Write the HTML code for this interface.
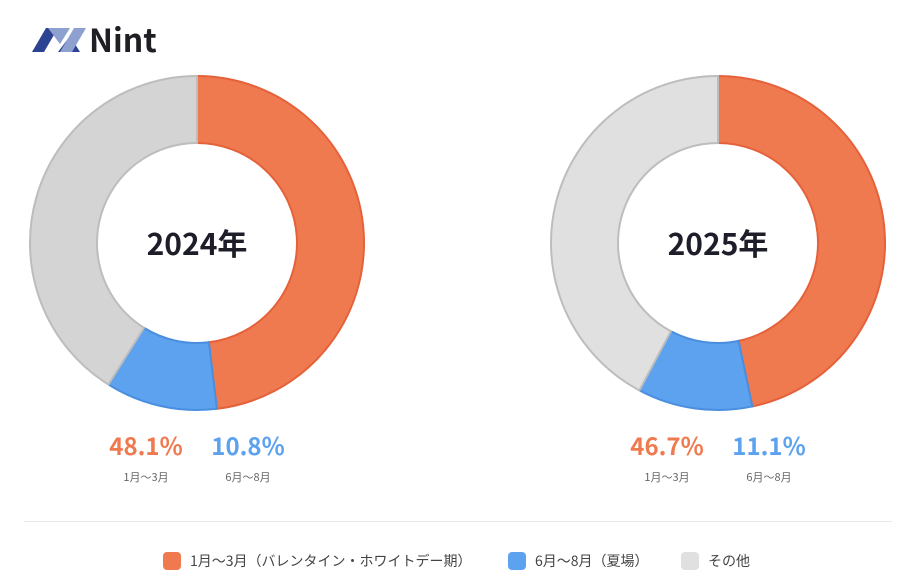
<!DOCTYPE html>
<html><head><meta charset="utf-8"><style>
body{margin:0;width:916px;height:584px;background:#fff;font-family:"Noto Sans CJK JP","Liberation Sans",sans-serif;overflow:hidden;position:relative}
.abs{position:absolute}
.pct{font-size:24px;font-weight:bold;text-align:center;width:100px;line-height:30px}
.sub{font-size:11px;color:#666;text-align:center;width:100px;line-height:16px}
.leg{font-size:14px;color:#444;display:flex;align-items:center;line-height:20px}
.sw{width:18px;height:18px;border-radius:4px;margin-right:9px}
</style></head><body>
<svg class="abs" style="left:30px;top:20px" width="145" height="36">
<polygon points="2,32 16,8 28,8 14,32" fill="#2c4391"/>
<polygon points="18,8 40,8 30,24" fill="#8ea0cf"/>
<polygon points="28,32 50,32 40,16" fill="#2c4391"/>
<polygon points="44,8 56,8 42,32 30,32" fill="#8ea0cf"/>
<text x="59" y="32" font-size="32" font-weight="bold" fill="#1e1e24" font-family="Noto Sans CJK JP, sans-serif">Nint</text>
</svg>
<svg id="chart" class="abs" style="left:0;top:0" width="916" height="520"></svg>
<div class="abs" style="left:24px;top:521px;width:868px;height:1px;background:#e8e8e8"></div>
<div class="abs leg" style="left:163px;top:551px"><div class="sw" style="background:#f07a50"></div>1月～3月（バレンタイン・ホワイトデー期）</div>
<div class="abs leg" style="left:508px;top:551px"><div class="sw" style="background:#5ca2ef"></div>6月～8月（夏場）</div>
<div class="abs leg" style="left:681px;top:551px"><div class="sw" style="background:#e0e0e0"></div>その他</div>
<script>
const years = ["2024年","2025年"];
const janMar = [48.1, 46.7];
const junAug = [10.8, 11.1];
const centers = [197, 718];
const fills = ["#f07a50","#5ca2ef"];
const strokes = ["#e5613a","#4a8ee0"];
const otherFill = ["#d4d4d4","#e0e0e0"];
const svg = document.getElementById('chart');
const NS = "http://www.w3.org/2000/svg";
const cy = 243, R = 167, r = 100;
function pt(cx, rad, pct){const a = pct/100*2*Math.PI; return [cx+rad*Math.sin(a), cy-rad*Math.cos(a)];}
function arc(cx, p0, p1){
  const large = (p1-p0) > 50 ? 1 : 0;
  const [x0,y0]=pt(cx,R,p0),[x1,y1]=pt(cx,R,p1),[x2,y2]=pt(cx,r,p1),[x3,y3]=pt(cx,r,p0);
  return `M${x0},${y0}A${R},${R} 0 ${large} 1 ${x1},${y1}L${x2},${y2}A${r},${r} 0 ${large} 0 ${x3},${y3}Z`;
}
years.forEach((y,i)=>{
  const cx = centers[i];
  const segs = [[0, janMar[i], fills[0], strokes[0], 'slice-jan-mar'],
                [janMar[i], janMar[i]+junAug[i], fills[1], strokes[1], 'slice-jun-aug'],
                [janMar[i]+junAug[i], 100, otherFill[i], '#bdbdbd', 'slice-other']];
  segs.forEach(s=>{
    const p = document.createElementNS(NS,'path');
    p.setAttribute('d', arc(cx, s[0], s[1]));
    p.setAttribute('fill', s[2]); p.setAttribute('stroke', s[3]); p.setAttribute('stroke-width','2');
    
    
    svg.appendChild(p);
  });
  const t = document.createElementNS(NS,'text');
  t.setAttribute('x', cx); t.setAttribute('y', cy+12); t.setAttribute('text-anchor','middle');
  t.setAttribute('font-size','30'); t.setAttribute('font-weight','bold'); t.setAttribute('fill','#1e1e2a');
  t.textContent = y;
  
  
  svg.appendChild(t);
  const vals = [janMar[i], junAug[i]], subs = ["1月～3月","6月～8月"], offs = [-51, 51];
  vals.forEach((v,j)=>{
    const d = document.createElement('div');
    d.className='abs pct'; d.style.left=(cx+offs[j]-50)+'px'; d.style.top='430px'; d.style.color=fills[j];
    d.textContent = v.toFixed(1)+'%';
    
    
    document.body.appendChild(d);
    const s = document.createElement('div');
    s.className='abs sub'; s.style.left=(cx+offs[j]-50)+'px'; s.style.top='469px';
    s.textContent = subs[j];
    
    
    document.body.appendChild(s);
  });
});
</script>
</body></html>
